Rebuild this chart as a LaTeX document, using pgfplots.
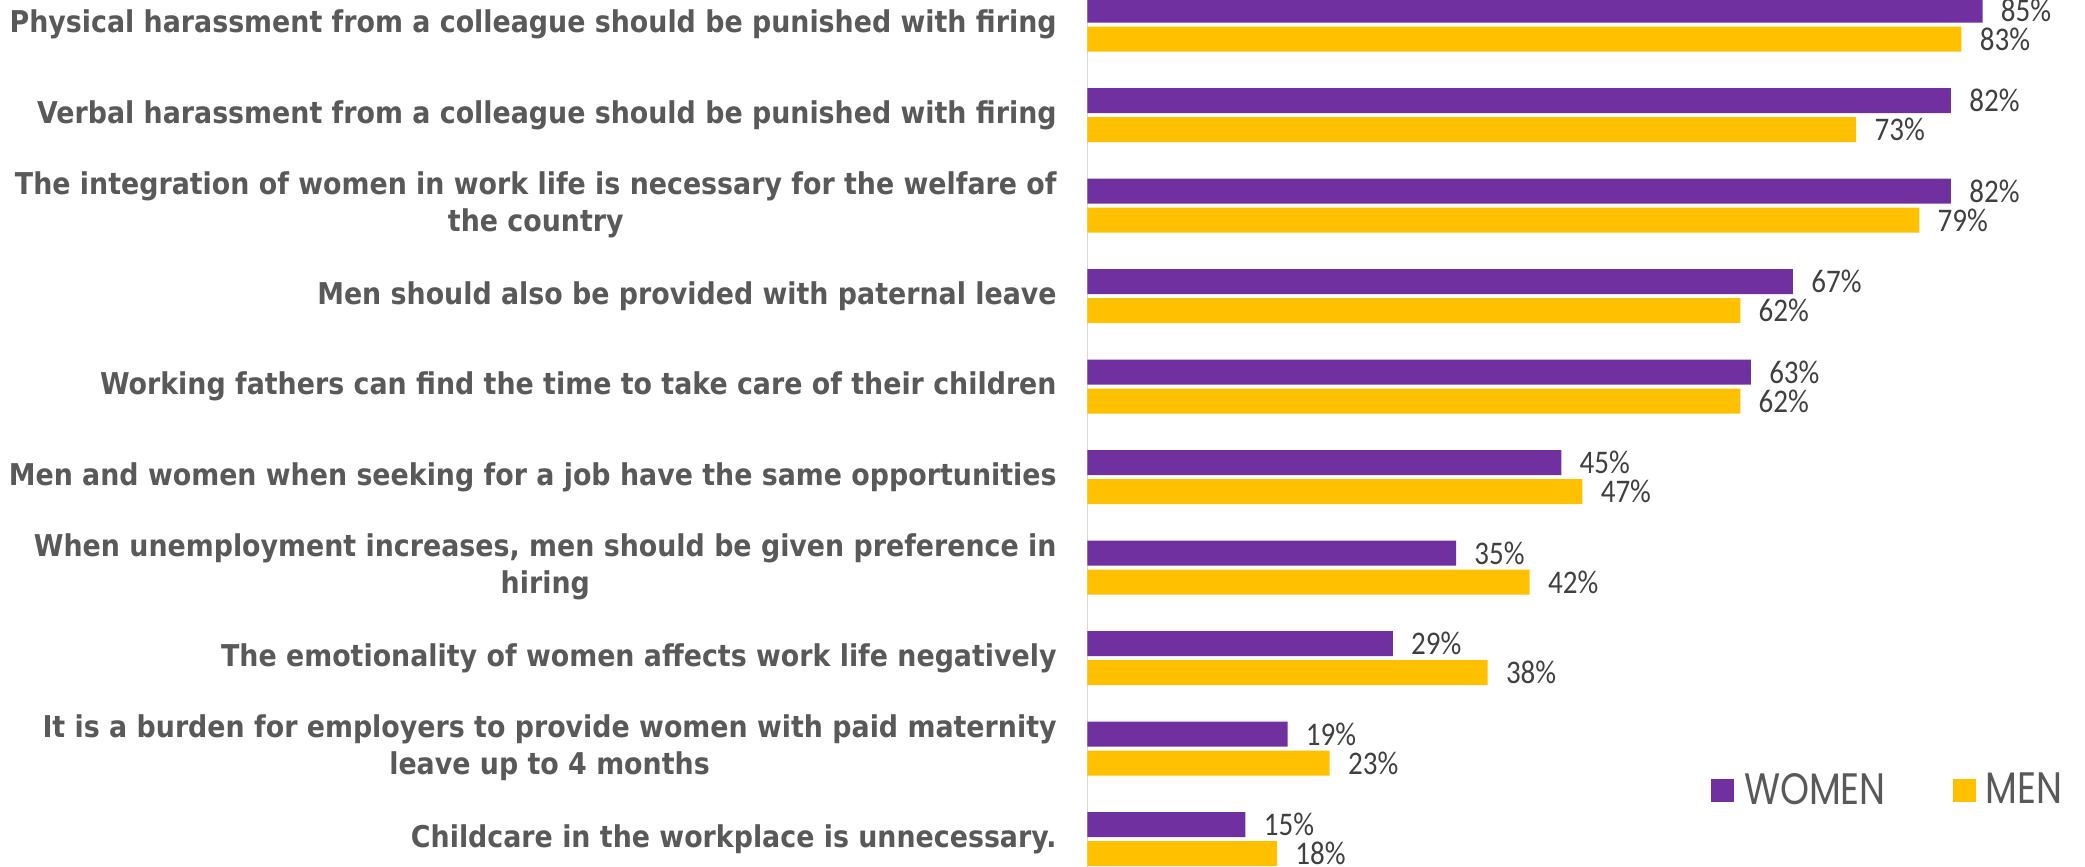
\documentclass[border=0pt]{standalone}
\usepackage{fontspec}
\usepackage{pgfplots}
\pgfplotsset{compat=1.18}
\newfontfamily\labelfont{DejaVu Sans}[FakeStretch=0.895]
\newfontfamily\numfont{Carlito}[FakeStretch=0.88]
\newfontfamily\legfont{Poppins}[FakeStretch=0.84]
\definecolor{cWomen}{HTML}{7030A0}
\definecolor{cMen}{HTML}{FFC000}
\definecolor{cLab}{HTML}{595959}
\definecolor{cNum}{HTML}{404040}
\definecolor{cAxis}{HTML}{D9D9D9}
\newcommand\two[2]{\begin{tabular}{@{}c@{}}#1\\#2\end{tabular}}
\begin{document}
\begin{tikzpicture}
\begin{axis}[
  at={(0pt,0pt)}, anchor=south west,
  scale only axis, width=498.75pt, height=433.5pt,
  xmin=0, xmax=94.73, ymin=-0.309, ymax=9.271,
  xbar, bar width=12.5pt,
  axis x line=none, axis y line*=left,
  y axis line style={draw=cAxis, line width=0.7pt, -},
  ytick={0,...,9},
  yticklabels={
    {Childcare in the workplace is unnecessary.},
    {\two{It is a burden for employers to provide women with paid maternity}{leave up to 4 months}},
    {The emotionality of women affects work life negatively},
    {\two{When unemployment increases, men should be given preference in}{hiring}},
    {Men and women when seeking for a job have the same opportunities},
    {Working fathers can find the time to take care of their children},
    {Men should also be provided with paternal leave},
    {\two{The integration of women in work life is necessary for the welfare of}{the country}\hspace{5pt}},
    {Verbal harassment from a colleague should be punished with firing},
    {Physical harassment from a colleague should be punished with firing\hspace{5pt}}
  },
  major tick length=0pt,
  yticklabel style={font={\labelfont\bfseries\fontsize{15}{18.5}\selectfont}, text=cLab, anchor=east, inner sep=0pt, xshift=-15.25pt},
  clip=false,
  nodes near coords={\pgfmathprintnumber[assume math mode=true]{\pgfplotspointmeta}\%},
  every node near coord/.append style={font={\numfont\fontsize{16.5}{19.8}\selectfont}, text=cNum, anchor=west, inner sep=0pt, xshift=9pt},
  legend image code/.code={\fill[#1] (0pt,-5.75pt) rectangle (11.5pt,5.75pt);},
  legend style={legend columns=2, draw=none, fill=none, inner sep=0pt, outer sep=0pt,
    at={(0.6251,0.0888)}, anchor=west, font={\legfont\fontsize{22}{26}\selectfont}, text=cLab,
    nodes={inner sep=0pt},
    /tikz/every even column/.append style={column sep=33.5pt},
    /tikz/every odd column/.append style={column sep=5pt}},
  legend cell align=left,
]
\addplot[fill=cWomen, draw=none, bar shift=7.25pt] coordinates {
  (15,0) (19,1) (29,2) (35,3) (45,4) (63,5) (67,6) (82,7) (82,8) (85,9)};
\addplot[fill=cMen, draw=none, bar shift=-7.25pt] coordinates {
  (18,0) (23,1) (38,2) (42,3) (47,4) (62,5) (62,6) (79,7) (73,8) (83,9)};
\legend{WOMEN,MEN}
\end{axis}
\pgfresetboundingbox
\useasboundingbox (-543.75pt,0pt) rectangle (498.75pt,433.5pt);
\end{tikzpicture}
\end{document}
